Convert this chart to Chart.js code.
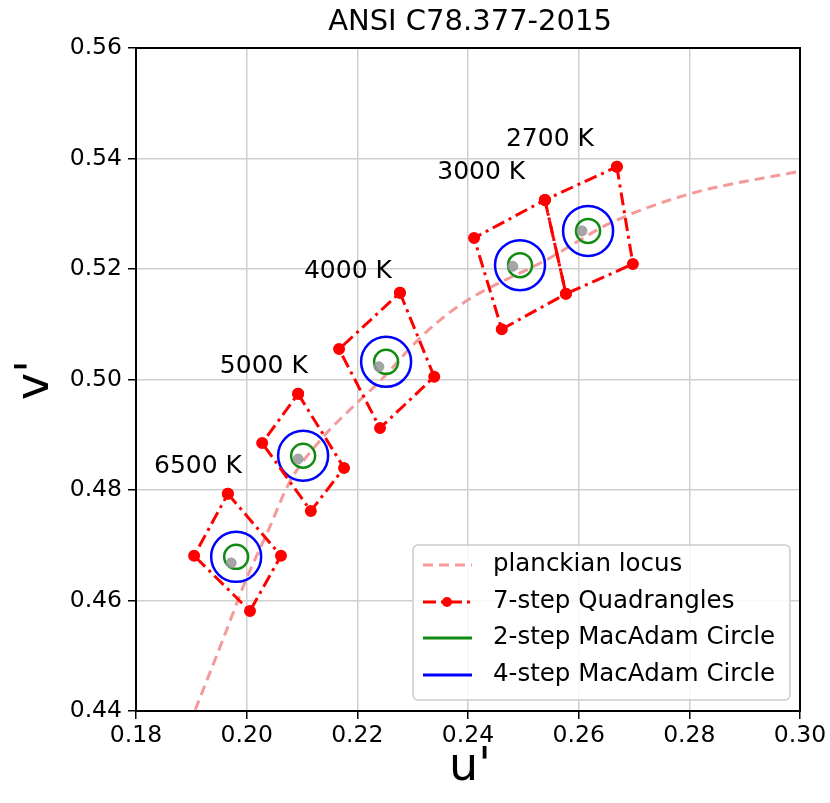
<!DOCTYPE html>
<html>
<head>
<meta charset="utf-8">
<script src="https://cdn.jsdelivr.net/npm/chart.js@4.4.1/dist/chart.umd.min.js"></script>
<style>
    body { margin: 0; background: #ffffff; }
    #box { width: 830px; height: 803px; }
</style>
</head>
<body>
<div id="box"><canvas id="ansiChart" width="830" height="803"></canvas></div>
<script>
// tick labels
var xTicks = [0.18, 0.20, 0.22, 0.24, 0.26, 0.28, 0.30];
var yTicks = [0.44, 0.46, 0.48, 0.50, 0.52, 0.54, 0.56];

// planckian locus
var locusU = [0.1907, 0.1957, 0.2001, 0.2037, 0.2078, 0.2133, 0.2205, 0.2241, 0.2313, 0.2386, 0.2548, 0.2657, 0.2801, 0.3000];
var locusV = [0.4402, 0.4529, 0.4643, 0.4722, 0.4815, 0.4890, 0.4963, 0.4997, 0.5075, 0.5135, 0.5220, 0.5283, 0.5336, 0.5377];

// CCT names and nominal centres
var cctNames = ['6500 K', '5000 K', '4000 K', '3000 K', '2700 K'];
var centerU = [0.1972, 0.2093, 0.2239, 0.2481, 0.2606];
var centerV = [0.4668, 0.4856, 0.5023, 0.5205, 0.5269];

// MacAdam circle centres
var circleU = [0.1981, 0.2102, 0.2252, 0.2494, 0.2617];
var circleV = [0.4679, 0.4862, 0.5032, 0.5207, 0.5269];

// 7-step quadrangle corners
var quadU = [
    [0.1966, 0.2062, 0.2006, 0.1905],
    [0.2093, 0.2176, 0.2116, 0.2028],
    [0.2277, 0.2339, 0.2241, 0.2167],
    [0.2539, 0.2577, 0.2461, 0.2411],
    [0.2669, 0.2698, 0.2577, 0.2539]
];
var quadV = [
    [0.4793, 0.4681, 0.4581, 0.4681],
    [0.4974, 0.4840, 0.4762, 0.4885],
    [0.5157, 0.5005, 0.4912, 0.5055],
    [0.5325, 0.5155, 0.5091, 0.5256],
    [0.5385, 0.5209, 0.5155, 0.5325]
];

// where the CCT names sit
var labelU = [0.1912, 0.2031, 0.2183, 0.2424, 0.2548];
var labelV = [0.4843, 0.5024, 0.5196, 0.5374, 0.5435];

var FONT = "'DejaVu Sans', sans-serif";
var RED = '#ff0000';
var PINK = '#f49a9a';
var GREEN = '#108a10';
var BLUE = '#0000ff';
var DASHDOT = [13, 5, 3, 5];

function toPoints(us, vs) {
    var pts = [];
    for (var i = 0; i < us.length; i++) {
        pts.push({ x: us[i], y: vs[i] });
    }
    return pts;
}

var datasets = [];

datasets.push({
    label: 'planckian locus',
    data: toPoints(locusU, locusV),
    showLine: true,
    borderColor: PINK,
    borderWidth: 3,
    borderDash: [10, 6],
    pointRadius: 0,
    cubicInterpolationMode: 'monotone',
    order: 5
});

for (var q = 0; q < quadU.length; q++) {
    var us = quadU[q].concat([quadU[q][0]]);
    var vs = quadV[q].concat([quadV[q][0]]);
    datasets.push({
        label: '7-step Quadrangles',
        data: toPoints(us, vs),
        showLine: true,
        borderColor: RED,
        borderWidth: 3,
        borderDash: DASHDOT,
        pointRadius: 4.5,
        pointBackgroundColor: RED,
        pointBorderColor: RED,
        order: 2
    });
}

datasets.push({
    label: '4-step MacAdam Circle',
    data: toPoints(circleU, circleV),
    showLine: false,
    pointStyle: 'circle',
    pointRadius: 25,
    pointBorderWidth: 2.5,
    pointBorderColor: BLUE,
    pointBackgroundColor: 'rgba(0,0,0,0)',
    order: 4
});

datasets.push({
    label: '2-step MacAdam Circle',
    data: toPoints(circleU, circleV),
    showLine: false,
    pointStyle: 'circle',
    pointRadius: 12,
    pointBorderWidth: 2.5,
    pointBorderColor: GREEN,
    pointBackgroundColor: 'rgba(0,0,0,0)',
    order: 3
});

datasets.push({
    label: 'centres',
    data: toPoints(centerU, centerV),
    showLine: false,
    pointRadius: 5,
    pointBackgroundColor: 'rgba(150,150,150,0.85)',
    pointBorderColor: 'rgba(150,150,150,0.85)',
    order: 1
});

// title, axis names, CCT names, frame and legend
var decorPlugin = {
    id: 'decor',
    afterDraw: function (chart) {
        var ctx = chart.ctx;
        var area = chart.chartArea;
        var sx = chart.scales.x;
        var sy = chart.scales.y;

        ctx.save();
        ctx.strokeStyle = '#000000';
        ctx.lineWidth = 2;
        ctx.strokeRect(area.left, area.top, area.right - area.left, area.bottom - area.top);

        ctx.fillStyle = '#000000';
        ctx.textAlign = 'center';
        ctx.textBaseline = 'middle';
        ctx.font = '29px ' + FONT;
        ctx.fillText('ANSI C78.377-2015', 470, 22);

        ctx.font = '46px ' + FONT;
        ctx.fillText("u'", 470, 768);
        ctx.save();
        ctx.translate(36, 380);
        ctx.rotate(-Math.PI / 2);
        ctx.fillText("v'", 0, 0);
        ctx.restore();

        ctx.font = '25px ' + FONT;
        for (var i = 0; i < cctNames.length; i++) {
            ctx.fillText(cctNames[i], sx.getPixelForValue(labelU[i]), sy.getPixelForValue(labelV[i]));
        }

        // legend box
        var lx = 413, ly = 545, lw = 377, lh = 155;
        ctx.beginPath();
        ctx.roundRect(lx, ly, lw, lh, 5);
        ctx.fillStyle = 'rgba(255,255,255,0.85)';
        ctx.fill();
        ctx.strokeStyle = '#cccccc';
        ctx.lineWidth = 1.5;
        ctx.stroke();

        var rows = [
            { text: 'planckian locus', color: PINK, dash: [10, 6], marker: false },
            { text: '7-step Quadrangles', color: RED, dash: DASHDOT, marker: true },
            { text: '2-step MacAdam Circle', color: GREEN, dash: [], marker: false },
            { text: '4-step MacAdam Circle', color: BLUE, dash: [], marker: false }
        ];
        var rowY = [565, 602, 638, 675];
        ctx.textAlign = 'left';
        ctx.font = '24.5px ' + FONT;
        for (var r = 0; r < rows.length; r++) {
            ctx.strokeStyle = rows[r].color;
            ctx.lineWidth = 3;
            ctx.setLineDash(rows[r].dash);
            ctx.beginPath();
            ctx.moveTo(423, rowY[r]);
            ctx.lineTo(472, rowY[r]);
            ctx.stroke();
            ctx.setLineDash([]);
            if (rows[r].marker) {
                ctx.fillStyle = rows[r].color;
                ctx.beginPath();
                ctx.arc(447, rowY[r], 5, 0, Math.PI * 2);
                ctx.fill();
            }
            ctx.fillStyle = '#000000';
            ctx.fillText(rows[r].text, 493, rowY[r]);
        }
        ctx.restore();
    }
};

var context = document.getElementById('ansiChart').getContext('2d');
var ansiChart = new Chart(context, {
    type: 'scatter',
    data: { datasets: datasets },
    options: {
        responsive: false,
        animation: false,
        layout: {
            padding: { top: 48, right: 30, left: 0, bottom: 0 }
        },
        plugins: {
            legend: { display: false },
            tooltip: { enabled: false },
            title: { display: false }
        },
        scales: {
            x: {
                type: 'linear',
                min: 0.18,
                max: 0.30,
                afterBuildTicks: function (scale) {
                    scale.ticks = xTicks.map(function (v) { return { value: v }; });
                },
                afterFit: function (scale) { scale.height = 92; },
                ticks: {
                    color: '#000000',
                    padding: 3,
                    maxRotation: 0,
                    font: { family: FONT, size: 23.5 },
                    callback: function (v) { return v.toFixed(2); }
                },
                grid: {
                    color: '#cfcfcf',
                    lineWidth: 1.5,
                    tickColor: '#000000',
                    tickLength: 8
                },
                border: { color: '#000000', width: 2 }
            },
            y: {
                type: 'linear',
                min: 0.44,
                max: 0.56,
                afterBuildTicks: function (scale) {
                    scale.ticks = yTicks.map(function (v) { return { value: v }; });
                },
                afterFit: function (scale) { scale.width = 136; },
                ticks: {
                    color: '#000000',
                    padding: 6,
                    font: { family: FONT, size: 23.5 },
                    callback: function (v) { return v.toFixed(2); }
                },
                grid: {
                    color: '#cfcfcf',
                    lineWidth: 1.5,
                    tickColor: '#000000',
                    tickLength: 8
                },
                border: { color: '#000000', width: 2 }
            }
        }
    },
    plugins: [decorPlugin]
});
</script>
</body>
</html>
